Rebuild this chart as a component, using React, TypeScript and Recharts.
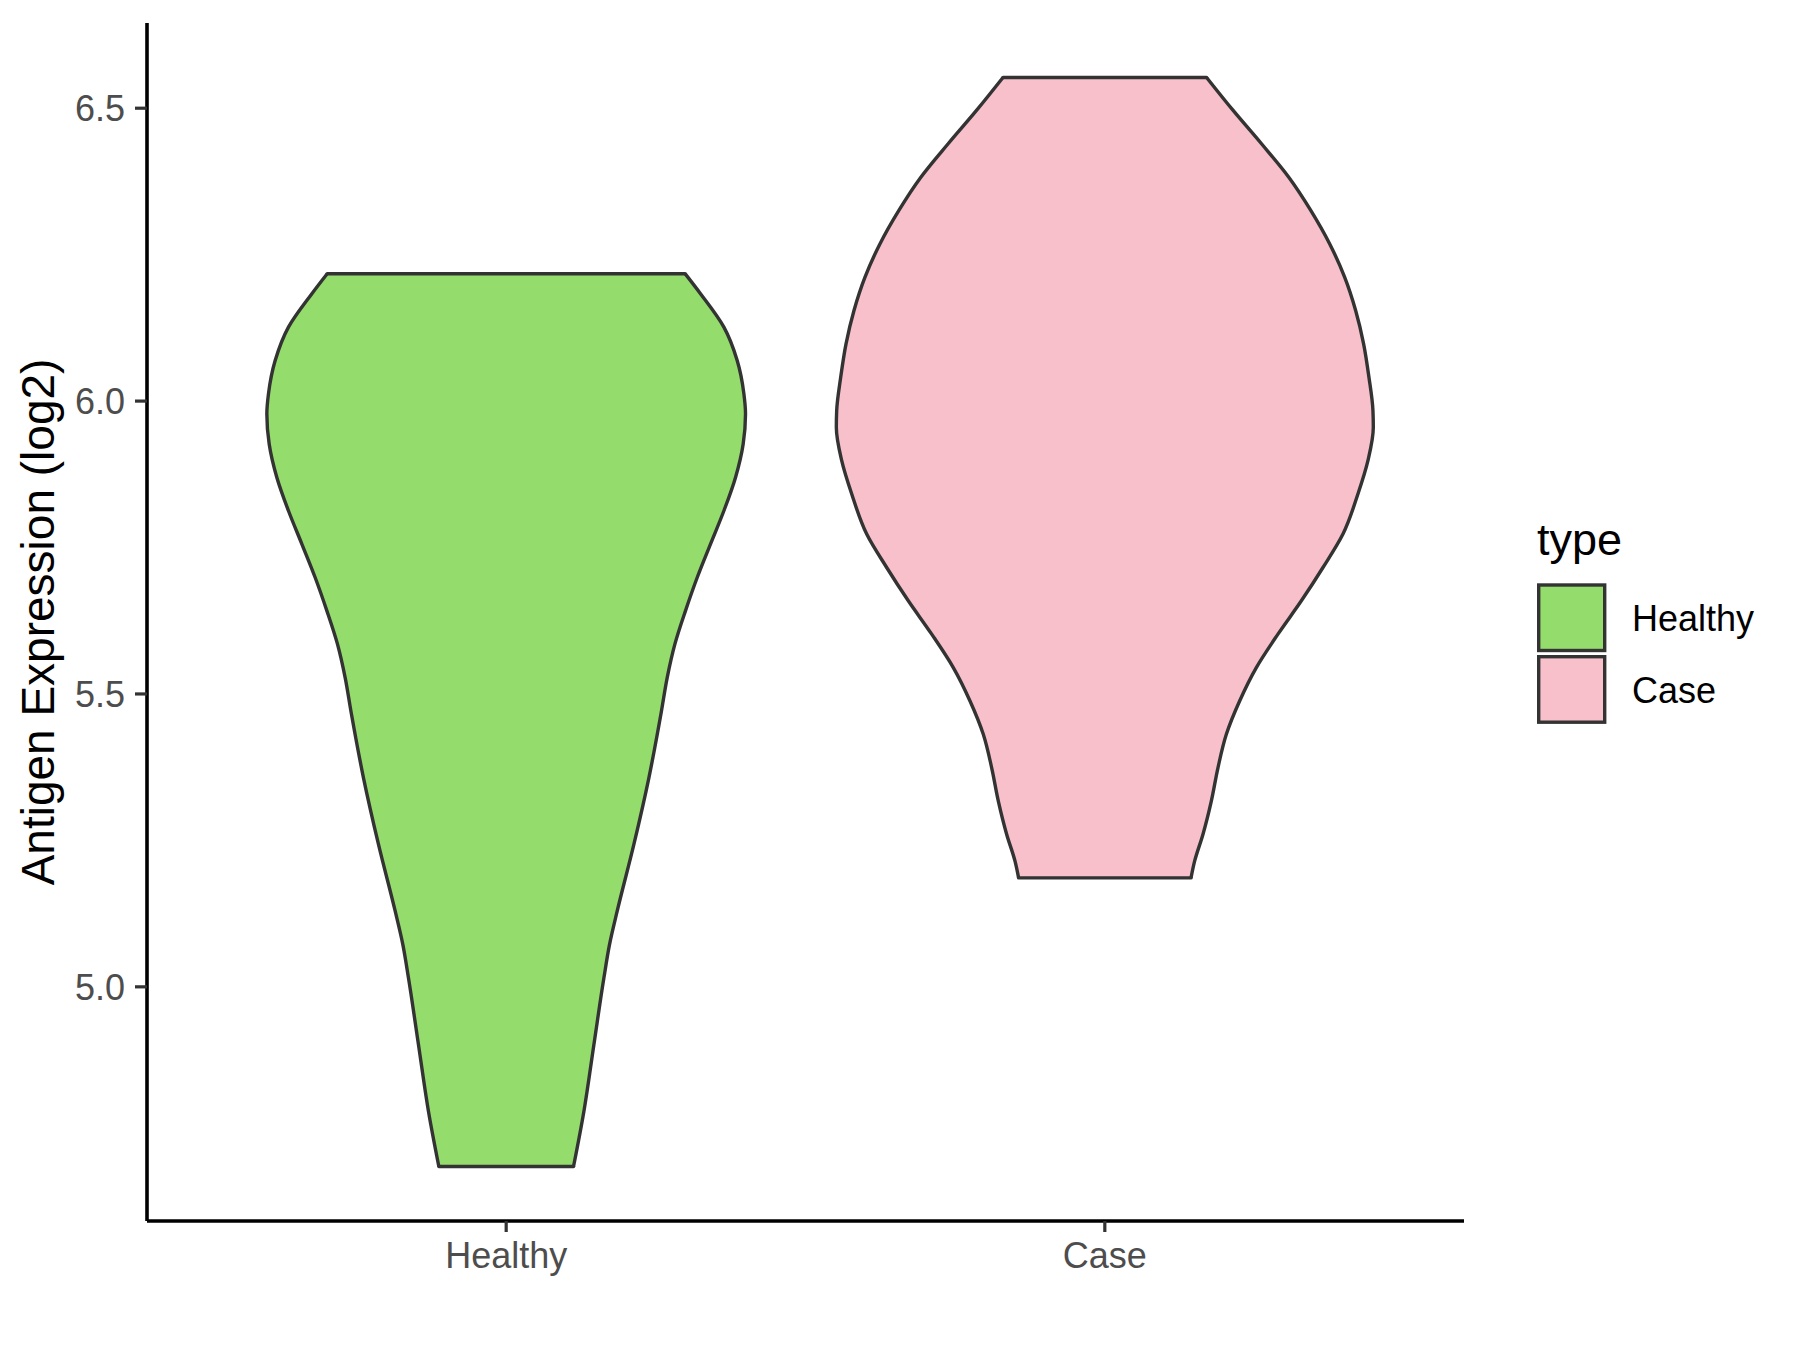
import React from 'react';
import { ComposedChart, Area, XAxis, YAxis, ReferenceLine, Legend } from 'recharts';

const FONT = '"Liberation Sans", Arial, Helvetica, sans-serif';

// Categories and their fill colours
const groups = ['Healthy', 'Case'];
const groupColors = ['#94DC6B', '#F7C0CB'];
const groupKeys = ['healthy', 'case'];

// Violin outlines: expression value and half width (in category units)
const healthyY = [
  6.2174, 6.1833, 6.1262, 6.0692, 6.0123, 5.9781, 5.9268, 5.8697, 5.8128, 5.7559, 5.6988, 5.6419,
  5.585, 5.5279, 5.4709, 5.3569, 5.2431, 5.1291, 5.0721, 5.015, 4.9012, 4.7872, 4.6932,
];
const healthyHalfWidth = [
  0.2990, 0.3246, 0.3637, 0.3859, 0.3971, 0.3998, 0.3959, 0.3831, 0.3637, 0.3413, 0.3191, 0.2995,
  0.2818, 0.269, 0.2594, 0.2384, 0.2133, 0.1854, 0.1726, 0.1632, 0.1465, 0.1298, 0.1125,
];
const caseY = [
  6.5525, 6.4966, 6.4397, 6.3826, 6.3256, 6.2687, 6.2116, 6.1547, 6.0978, 6.0407, 5.9838, 5.9552,
  5.8983, 5.8414, 5.773, 5.7159, 5.659, 5.6021, 5.545, 5.488, 5.4311, 5.374, 5.3171, 5.2602, 5.2145,
  5.186,
];
const caseHalfWidth = [
  0.1700, 0.214, 0.2614, 0.3070, 0.3440, 0.3755, 0.4006, 0.419, 0.4323, 0.4412, 0.4479, 0.4485,
  0.4395, 0.4228, 0.3978, 0.3644, 0.3283, 0.2892, 0.2531, 0.2252, 0.203, 0.189, 0.1779, 0.1639, 0.15,
  0.1440,
];

const yTicks = [5.0, 5.5, 6.0, 6.5];
const yLabel = 'Antigen Expression (log2)';
const legendTitle = 'type';

const violins = [
  { key: groupKeys[0], pos: 1, ys: healthyY, hw: healthyHalfWidth, color: groupColors[0] },
  { key: groupKeys[1], pos: 2, ys: caseY, hw: caseHalfWidth, color: groupColors[1] },
];

// Build a table for the library: each row belongs to one violin, others are gaps
const rows: any[] = [];
violins.forEach((v) => {
  v.ys.forEach((y, i) => {
    const row: any = { y };
    violins.forEach((o) => {
      row[o.key] = o.key === v.key ? [v.pos - v.hw[i], v.pos + v.hw[i]] : [null, null];
    });
    rows.push(row);
  });
});
rows.sort((a, b) => b.y - a.y);

const allY = [...healthyY, ...caseY];
const yMin = Math.min(...allY);
const yMax = Math.max(...allY);
const pad = (yMax - yMin) * 0.05;
const yDomain = [yMin - pad, yMax + pad];
const xDomain = [1 - 0.6, groups.length + 0.6];
const xTicks = groups.map((_, i) => i + 1);

const OUTLINE = '#333333';
const OUTLINE_W = 3.4;

const renderYLabel = (props: any) => {
  const vb = props.viewBox || { x: 0, y: 0, width: 0, height: 0 };
  const cx = vb.x + 38;
  const cy = vb.y + vb.height / 2;
  return (
    <text
      x={cx}
      y={cy}
      transform={`rotate(-90, ${cx}, ${cy})`}
      textAnchor="middle"
      dominantBaseline="central"
      fontSize={46}
      fontFamily={FONT}
      fill="#000000"
    >
      {yLabel}
    </text>
  );
};

const renderLegend = () => (
  <svg width={270} height={240} style={{ overflow: 'visible', display: 'block' }}>
    <text x={0} y={55} fontSize={45} fontFamily={FONT} fill="#000000">
      {legendTitle}
    </text>
    {groups.map((g, i) => (
      <g key={g}>
        <rect
          x={1.7}
          y={85}
          transform={`translate(0, ${i * 71.7})`}
          width={66}
          height={65.5}
          fill={groupColors[i]}
          stroke={OUTLINE}
          strokeWidth={OUTLINE_W}
        />
        <text x={95} y={130.7 + i * 72} fontSize={36} fontFamily={FONT} fill="#000000">
          {g}
        </text>
      </g>
    ))}
  </svg>
);

export default function App() {
  return (
    <div style={{ position: 'absolute', left: 0, top: 0, width: 1800, height: 1350, background: '#ffffff' }}>
      <ComposedChart
        width={1800}
        height={1350}
        data={rows}
        layout="vertical"
        margin={{ top: 23, right: 336, bottom: 0, left: 0 }}
      >
        <XAxis
          type="number"
          domain={xDomain}
          allowDataOverflow
          ticks={xTicks}
          interval={0}
          tickFormatter={(v: number) => groups[Math.round(v) - 1]}
          height={129}
          tickSize={11}
          tickMargin={10}
          axisLine={{ stroke: '#000000', strokeWidth: 3.6 }}
          tickLine={{ stroke: '#333333', strokeWidth: 3.2 }}
          tick={{ fontSize: 36, fill: '#4D4D4D', fontFamily: FONT }}
        />
        <YAxis
          type="number"
          dataKey="y"
          domain={yDomain}
          allowDataOverflow
          reversed
          ticks={yTicks}
          interval={0}
          tickFormatter={(v: number) => v.toFixed(1)}
          width={147}
          tickSize={12}
          tickMargin={10}
          axisLine={{ stroke: '#000000', strokeWidth: 3.6 }}
          tickLine={{ stroke: '#333333', strokeWidth: 3.2 }}
          tick={{ fontSize: 36, fill: '#4D4D4D', fontFamily: FONT }}
          label={renderYLabel}
        />
        {violins.map((v) => (
          <Area
            key={v.key}
            dataKey={v.key}
            type="monotone"
            stroke={OUTLINE}
            strokeWidth={OUTLINE_W}
            fill={v.color}
            fillOpacity={1}
            connectNulls
            dot={false}
            activeDot={false}
            isAnimationActive={false}
          />
        ))}
        {violins.map((v) => (
          <ReferenceLine
            key={v.key + '-top'}
            segment={[
              { x: v.pos - v.hw[0], y: v.ys[0] },
              { x: v.pos + v.hw[0], y: v.ys[0] },
            ]}
            stroke={OUTLINE}
            strokeWidth={OUTLINE_W}
            strokeLinecap="round"
          />
        ))}
        {violins.map((v) => (
          <ReferenceLine
            key={v.key + '-bottom'}
            segment={[
              { x: v.pos - v.hw[v.hw.length - 1], y: v.ys[v.ys.length - 1] },
              { x: v.pos + v.hw[v.hw.length - 1], y: v.ys[v.ys.length - 1] },
            ]}
            stroke={OUTLINE}
            strokeWidth={OUTLINE_W}
            strokeLinecap="round"
          />
        ))}
        <Legend
          layout="vertical"
          align="center"
          verticalAlign="middle"
          content={renderLegend}
          wrapperStyle={{ left: 1537, top: 500, width: 270, height: 240 }}
        />
      </ComposedChart>
    </div>
  );
}
